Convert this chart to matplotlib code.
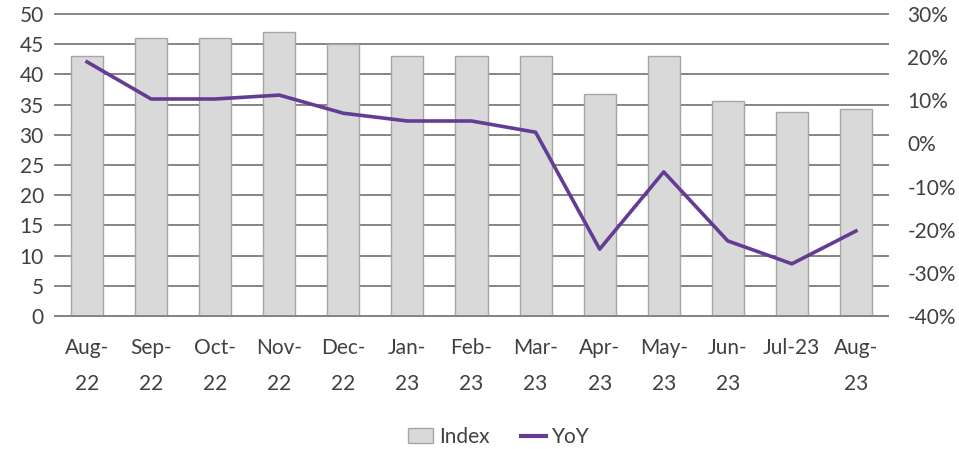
import matplotlib
matplotlib.use("Agg")
import matplotlib.pyplot as plt
from matplotlib.patches import Patch
from matplotlib.lines import Line2D
from matplotlib.ticker import FuncFormatter

months = ["Aug-\n22", "Sep-\n22", "Oct-\n22", "Nov-\n22", "Dec-\n22", "Jan-\n23", "Feb-\n23",
          "Mar-\n23", "Apr-\n23", "May-\n23", "Jun-\n23", "Jul-23\n", "Aug-\n23"]
index_vals = [43, 46, 46, 47, 45, 43, 43, 43, 36.8, 43, 35.6, 33.8, 34.3]
yoy_vals = [18.9, 10.3, 10.3, 11.2, 7.0, 5.2, 5.2, 2.6, -24.5, -6.6, -22.6, -27.9, -20.3]

plt.rcParams['font.family'] = ['Lato', 'DejaVu Sans']

fig = plt.figure(figsize=(9.59, 4.49), dpi=100)
ax = fig.add_axes([55 / 959, 1 - 316 / 449, 833 / 959, 302 / 449])
ax2 = ax.twinx()

x = range(len(months))
ax.set_ylim(0, 50)
ax.set_yticks(range(0, 51, 5))
ax.grid(axis='y', color='#858585', linewidth=1.4)
for gl in ax.get_ygridlines():
    gl.set_clip_on(False)
ax.set_axisbelow(True)
ax.bar(x, index_vals, width=0.5, color='#d9d9d9', edgecolor='#a6a6a6', linewidth=1, zorder=2)
ax.set_xlim(-0.5, len(months) - 0.5)
ax.set_xticks(list(x))
ax.set_xticklabels(months, color='#404040', linespacing=2.0)

ax2.plot(x, yoy_vals, color='#633c94', linewidth=2.6, zorder=3)
ax2.set_ylim(-40, 30)
ax2.set_yticks(range(-40, 31, 10))
ax2.yaxis.set_major_formatter(FuncFormatter(lambda v, p: f"{v:.0f}%"))

for a in (ax, ax2):
    for s in a.spines.values():
        s.set_visible(False)
    a.tick_params(length=0, colors='#404040', labelsize=15)
ax.tick_params(axis='y', pad=8)
ax2.tick_params(axis='y', pad=14)
ax.tick_params(axis='x', pad=16)
ax.spines['bottom'].set_visible(True)
ax.spines['bottom'].set_color('#858585')
ax.spines['bottom'].set_linewidth(1.4)

handles = [Patch(facecolor='#d9d9d9', edgecolor='#a6a6a6', label='Index'),
           Line2D([0], [0], color='#633c94', linewidth=3, label='YoY')]
fig.legend(handles=handles, loc='center', bbox_to_anchor=(0.52, 12 / 449),
           ncol=2, frameon=False, fontsize=15, handlelength=1.2, handletextpad=0.3,
           columnspacing=1.5, labelcolor='#404040')

fig.savefig("out.png", dpi=100)
